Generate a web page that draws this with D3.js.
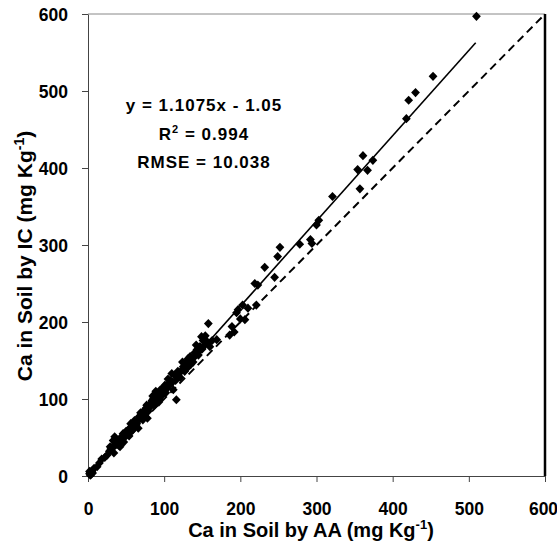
<!DOCTYPE html>
<html>
<head>
<meta charset="utf-8">
<script src="https://cdn.jsdelivr.net/npm/d3@7"></script>
<style>
  body { margin: 0; background: #fff; }
  text { font-family: Arial, "Liberation Sans", sans-serif; }
</style>
</head>
<body>
<div id="scatter"></div>
<script>
// Ca by AA (x) and Ca by IC (y)
var caAA = [2, 3, 4, 5, 3, 6, 2, 4, 8, 12,
  15, 18, 22, 25, 28, 29, 30, 32, 33, 34, 35, 36, 37, 38, 40, 41, 42, 43, 44, 45, 46, 47, 48, 49, 50,
  52, 53, 54, 55, 56, 57, 58, 59, 60,
  61, 62, 63, 64, 65, 66, 67, 68, 69, 70, 71, 72, 73, 74, 75, 76, 77, 78, 79, 80, 82, 83, 84, 85, 86,
  87, 88, 89, 90, 92, 93, 94, 95, 96, 97, 98, 99, 100, 101,
  102, 104, 105, 106, 107, 108, 110, 111, 112, 114, 115, 116, 117, 118, 120, 121, 122, 124, 125, 127,
  128, 130, 131, 132, 134, 135, 136, 138, 139, 140, 142, 143, 145, 146,
  147, 149, 150, 151, 153, 154, 156, 157, 158, 160, 163, 169,
  186, 189, 192, 195, 197, 200, 203, 206, 210, 219, 221, 223, 232, 245, 249, 252,
  278, 292, 294, 300, 303, 321, 354, 357, 361, 367, 374, 418, 421, 430, 453, 510];
var caIC = [3, 5, 2, 6, 1, 4, 6, 4, 10, 12,
  17, 22, 24, 27, 32, 38, 35, 36, 46, 30, 51, 42, 48, 44, 40, 47, 38, 45, 50, 52, 55, 44, 50, 56, 58,
  55, 60, 52, 62, 68, 58, 66, 60, 64,
  72, 70, 66, 68, 72, 62, 77, 74, 82, 80, 76, 73, 84, 80, 86, 88, 92, 75, 84, 92, 90, 94, 98, 104, 101,
  92, 97, 110, 108, 104, 96, 100, 112, 104, 110, 106, 112, 116, 118,
  108, 114, 126, 120, 118, 124, 133, 122, 112, 131, 124, 99, 128, 136, 134, 128, 136, 148, 142, 136,
  146, 140, 152, 150, 155, 145, 152, 148, 154, 160, 170, 164, 157, 162,
  168, 181, 165, 176, 170, 182, 175, 172, 198, 168, 176, 177,
  183, 194, 187, 212, 216, 204, 222, 203, 218, 250, 222, 248, 271, 258, 285, 297,
  301, 307, 302, 326, 332, 363, 398, 373, 416, 397, 410, 464, 488, 498, 519, 597];

var xTicks = [0, 100, 200, 300, 400, 500, 600];
var yTicks = [0, 100, 200, 300, 400, 500, 600];

// regression y = 1.1075x - 1.05, drawn up to the last point
var slope = 1.1075;
var intercept = -1.05;
var fitEnd = 509;

var annotation = ["y = 1.1075x - 1.05", "R2 = 0.994", "RMSE = 10.038"];

var svgWidth = 557;
var svgHeight = 549;

var svg = d3.select("#scatter")
  .append("svg")
  .attr("width", svgWidth)
  .attr("height", svgHeight);

var xScale = d3.scaleLinear().domain([0, 600]).range([88, 545]);
var yScale = d3.scaleLinear().domain([0, 600]).range([476, 14]);

// frame: top grey, right heavy black
svg.append("line")
  .attr("x1", xScale(0)).attr("x2", xScale(600))
  .attr("y1", yScale(600)).attr("y2", yScale(600))
  .attr("stroke", "#888").attr("stroke-width", 1);
svg.append("line")
  .attr("x1", xScale(600)).attr("x2", xScale(600))
  .attr("y1", yScale(600)).attr("y2", yScale(0))
  .attr("stroke", "#000").attr("stroke-width", 2.5);

// axes
var bottomAxis = d3.axisBottom(xScale).tickValues(xTicks).tickSize(6).tickSizeOuter(0);
var leftAxis = d3.axisLeft(yScale).tickValues(yTicks).tickSize(6).tickSizeOuter(0).tickPadding(14);

var xAxisG = svg.append("g")
  .attr("transform", `translate(0, ${yScale(0)})`)
  .call(bottomAxis);
xAxisG.selectAll("text")
  .attr("y", 39)
  .attr("dy", 0)
  .attr("font-size", "17.5px")
  .attr("font-weight", "bold")
  .attr("fill", "#000");
// last label would run off the page, nudge it in
xAxisG.selectAll("text").filter(d => d == 600).attr("dx", -2);

var yAxisG = svg.append("g")
  .attr("transform", `translate(${xScale(0)}, 0)`)
  .call(leftAxis);
yAxisG.selectAll("text")
  .attr("dy", "6.5px")
  .attr("font-size", "17.5px")
  .attr("font-weight", "bold")
  .attr("fill", "#000");

svg.selectAll(".domain").attr("stroke", "#444").attr("stroke-width", 1);
svg.selectAll(".tick line").attr("stroke", "#444");

// 1:1 line
svg.append("line")
  .attr("x1", xScale(0)).attr("y1", yScale(0))
  .attr("x2", xScale(600)).attr("y2", yScale(600))
  .attr("stroke", "#000")
  .attr("stroke-width", 2)
  .attr("stroke-dasharray", "8,5");

// fitted line
svg.append("line")
  .attr("x1", xScale(1)).attr("y1", yScale(slope * 1 + intercept))
  .attr("x2", xScale(fitEnd)).attr("y2", yScale(slope * fitEnd + intercept))
  .attr("stroke", "#000")
  .attr("stroke-width", 1.6);

// points as diamonds
var pts = caAA.map(function (d, i) { return { x: d, y: caIC[i] }; });
svg.append("g")
  .selectAll("path")
  .data(pts)
  .enter()
  .append("path")
  .attr("d", "M0,-4.6L4.4,0L0,4.6L-4.4,0Z")
  .attr("transform", d => `translate(${xScale(d.x)}, ${yScale(d.y)})`)
  .attr("fill", "#000");

// equation block
var note = svg.append("g")
  .attr("font-size", "17px")
  .attr("font-weight", "bold")
  .attr("letter-spacing", "1px")
  .attr("fill", "#000");
note.append("text")
  .attr("x", 204).attr("y", 111)
  .attr("text-anchor", "middle")
  .text(annotation[0]);
var r2 = note.append("text")
  .attr("x", 204).attr("y", 140)
  .attr("text-anchor", "middle");
r2.append("tspan").text("R");
r2.append("tspan").attr("dy", -7).attr("font-size", "11px").text("2");
r2.append("tspan").attr("dy", 7).text(" = 0.994");
note.append("text")
  .attr("x", 204).attr("y", 168)
  .attr("text-anchor", "middle")
  .text(annotation[2]);

// axis titles
var xTitle = svg.append("text")
  .attr("x", 311)
  .attr("y", 537)
  .attr("text-anchor", "middle")
  .attr("font-size", "20px")
  .attr("font-weight", "bold");
xTitle.append("tspan").text("Ca in Soil by AA (mg Kg");
xTitle.append("tspan").attr("dy", -8).attr("font-size", "13px").text("-1");
xTitle.append("tspan").attr("dy", 8).text(")");

var yTitle = svg.append("text")
  .attr("transform", "translate(32, 256) rotate(-90)")
  .attr("text-anchor", "middle")
  .attr("font-size", "21px")
  .attr("font-weight", "bold");
yTitle.append("tspan").text("Ca in Soil by IC (mg Kg");
yTitle.append("tspan").attr("dy", -8).attr("font-size", "14px").text("-1");
yTitle.append("tspan").attr("dy", 8).text(")");
</script>
</body>
</html>
